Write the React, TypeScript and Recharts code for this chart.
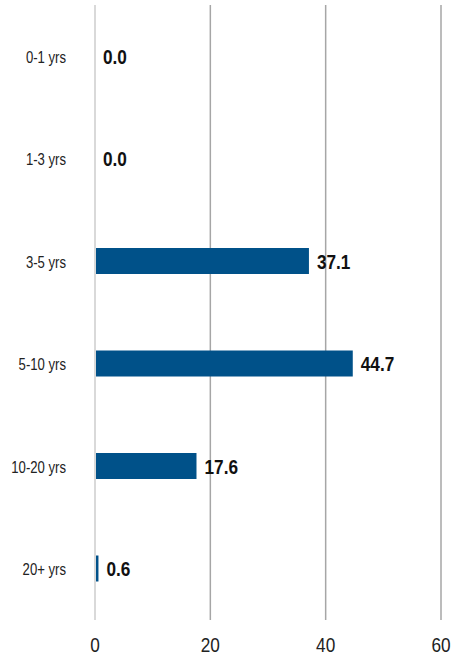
import React from 'react';
import {
  BarChart,
  Bar,
  XAxis,
  YAxis,
  CartesianGrid,
  LabelList,
} from 'recharts';

const categories = ['0-1 yrs', '1-3 yrs', '3-5 yrs', '5-10 yrs', '10-20 yrs', '20+ yrs'];
const values = [0.0, 0.0, 37.1, 44.7, 17.6, 0.6];
const xTicks = [0, 20, 40, 60];

const chartData = categories.map((name, i) => ({ name, value: values[i] }));

// no narrow font installed, so squeeze Liberation Sans horizontally
const FONT = '"Liberation Sans", Arial, sans-serif';
const SQUEEZE = 'scale(0.82,1)';

const CategoryTick = (props: any) => {
  const { x, y, payload } = props;
  return (
    <g transform={`translate(${x},${y})`}>
      <text
        textAnchor="end"
        dy="0.42em"
        transform={SQUEEZE}
        fontSize={16}
        fill="#222"
        fontFamily={FONT}
      >
        {payload.value}
      </text>
    </g>
  );
};

const ValueTick = (props: any) => {
  const { x, y, payload } = props;
  return (
    <g transform={`translate(${x},${y})`}>
      <text
        textAnchor="middle"
        dy="0.71em"
        transform={SQUEEZE}
        fontSize={21}
        fill="#222"
        fontFamily={FONT}
      >
        {payload.value}
      </text>
    </g>
  );
};

const ValueLabel = (props: any) => {
  const { x, y, width, height, value } = props;
  const lx = Number(x) + Math.max(Number(width), 0) + 8;
  const ly = Number(y) + Number(height) / 2;
  return (
    <g transform={`translate(${lx},${ly})`}>
      <text
        textAnchor="start"
        dy="0.36em"
        transform={SQUEEZE}
        fontSize={21}
        fontWeight={700}
        fill="#111"
        fontFamily={FONT}
      >
        {Number(value).toFixed(1)}
      </text>
    </g>
  );
};

export default function App() {
  return (
    <div style={{ position: 'absolute', left: 0, top: 0 }}>
      <BarChart
        width={467}
        height={658}
        data={chartData}
        layout="vertical"
        margin={{ top: 5, right: 26, bottom: 0, left: 0 }}
        barCategoryGap={0}
      >
        <CartesianGrid horizontal={false} stroke="#a6a6a6" strokeWidth={1.5} />
        <XAxis
          type="number"
          domain={[0, 60]}
          ticks={xTicks}
          axisLine={false}
          tickLine={false}
          tickSize={0}
          tickMargin={17}
          height={38}
          tick={<ValueTick />}
        />
        <YAxis
          type="category"
          dataKey="name"
          width={95}
          axisLine={{ stroke: '#d9d9d9', strokeWidth: 2 }}
          tickLine={false}
          tickSize={0}
          tickMargin={29}
          tick={<CategoryTick />}
        />
        <Bar
          dataKey="value"
          fill="#005189"
          barSize={26}
          minPointSize={0.001}
          isAnimationActive={false}
        >
          <LabelList dataKey="value" content={<ValueLabel />} />
        </Bar>
      </BarChart>
    </div>
  );
}
